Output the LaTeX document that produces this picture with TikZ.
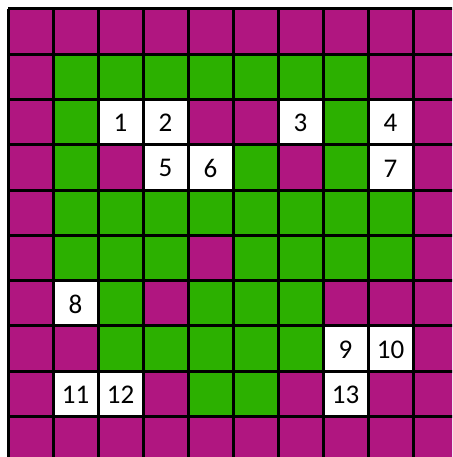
\documentclass[tikz,border=0pt]{standalone}
\usepackage{fontspec}
\setmainfont{Carlito}
\definecolor{mag}{RGB}{176,22,128}
\definecolor{grn}{RGB}{44,176,0}
\newcommand{\cellfill}[3]{\fill[#3] ({8+45*#1},{9+45.25*#2}) rectangle ({8+45*(#1+1)},{9+45.25*(#2+1)});}
\newcommand{\cellnum}[4]{\node[numtext] (#4) at ({8+45*(#1+0.5)},{10+45.25*(#2+0.5)}) {#3};}
\begin{document}
\begin{tikzpicture}[x=1pt,y=-1pt,
  gridline/.style={line width=3pt,black},
  numtext/.style={font=\fontsize{27}{29}\selectfont,inner sep=0pt}]
\useasboundingbox (0,0) rectangle (452,457);
\clip (0,0) rectangle (452,457);
\fill[white] (0,0) rectangle (452,457);
% row 0 and 9
\foreach \c in {0,...,9}{\cellfill{\c}{0}{mag}\cellfill{\c}{9}{mag}}
\foreach \r in {1,...,8}{\cellfill{0}{\r}{mag}}
% row 1
\foreach \c in {1,...,7}{\cellfill{\c}{1}{grn}}
\cellfill{8}{1}{mag}\cellfill{9}{1}{mag}
% row 2
\cellfill{1}{2}{grn}\cellfill{4}{2}{mag}\cellfill{5}{2}{mag}\cellfill{7}{2}{grn}\cellfill{9}{2}{mag}
% row 3
\cellfill{1}{3}{grn}\cellfill{2}{3}{mag}\cellfill{5}{3}{grn}\cellfill{6}{3}{mag}\cellfill{7}{3}{grn}\cellfill{9}{3}{mag}
% row 4
\foreach \c in {1,...,8}{\cellfill{\c}{4}{grn}}
\cellfill{9}{4}{mag}
% row 5
\foreach \c in {1,2,3,5,6,7,8}{\cellfill{\c}{5}{grn}}
\cellfill{4}{5}{mag}\cellfill{9}{5}{mag}
% row 6
\cellfill{2}{6}{grn}\cellfill{3}{6}{mag}
\foreach \c in {4,5,6}{\cellfill{\c}{6}{grn}}
\foreach \c in {7,8,9}{\cellfill{\c}{6}{mag}}
% row 7
\cellfill{1}{7}{mag}
\foreach \c in {2,...,6}{\cellfill{\c}{7}{grn}}
\cellfill{9}{7}{mag}
% row 8
\cellfill{3}{8}{mag}\cellfill{4}{8}{grn}\cellfill{5}{8}{grn}\cellfill{6}{8}{mag}\cellfill{8}{8}{mag}\cellfill{9}{8}{mag}
% grid lines
\foreach \i in {0,...,10}{
  \draw[gridline] ({8+45*\i},9) -- ({8+45*\i},{9+45.25*10});
  \draw[gridline] (8,{9+45.25*\i}) -- ({8+45*10},{9+45.25*\i});
}
% numbers
\cellnum{2}{2}{1}{n1}
\cellnum{3}{2}{2}{n2}
\cellnum{6}{2}{3}{n3}
\cellnum{8}{2}{4}{n4}
\cellnum{3}{3}{5}{n5}
\cellnum{4}{3}{6}{n6}
\cellnum{8}{3}{7}{n7}
\cellnum{1}{6}{8}{n8}
\cellnum{7}{7}{9}{n9}
\cellnum{8}{7}{10}{n10}
\cellnum{1}{8}{11}{n11}
\cellnum{2}{8}{12}{n12}
\cellnum{7}{8}{13}{n13}
\end{tikzpicture}
\end{document}
